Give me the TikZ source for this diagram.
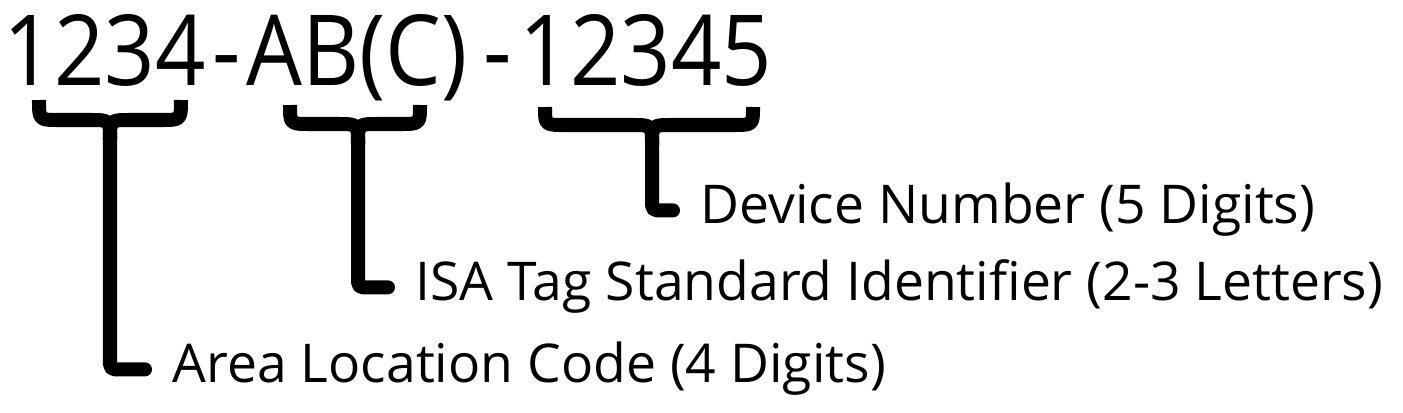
\documentclass[tikz,border=0pt]{standalone}
\usepackage{fontspec}
\setmainfont{Open Sans}
\newfontfamily\codefont[FakeStretch=0.9]{Open Sans}
\usetikzlibrary{positioning}

\begin{document}
\begin{tikzpicture}[
    x=0.01cm, y=-0.01cm,
    code/.style={inner sep=0pt, anchor=base west, font=\codefont\fontsize{27.9}{30}\selectfont},
    tag/.style={inner sep=0pt, anchor=base west, font=\fontsize{15.2}{17}\selectfont, text height=1.34ex, text depth=0pt},
    bracket/.style={line width=0.14cm, line join=round},
    stem/.style={bracket, line cap=round, rounded corners=0.05cm}
]
    \useasboundingbox (0,0) rectangle (1403,412);

    % tag number
    \node[code] (area) at (3,85) {1234};
    \node[code] (dashA) at (212,85) {-};
    \node[code] (isa) at (246,85) {AB(C)};
    \node[code] (dashB) at (483,85) {-};
    \node[code] (device) at (519,85) {12345};

    % descriptions
    \node[tag] (devicetxt) at (700,223) {Device Number (5 Digits)};
    \node[tag] (isatxt) at (415,300) {ISA Tag Standard Identifier (2-3 Letters)};
    \node[tag] (areatxt) at (172,382) {Area Location Code (4 Digits)};

    % brace under 1234
    \draw[bracket] (39,100) .. controls (39,120) .. (59,120) -- (90,120) .. controls (110,120) .. (110,140);
    \draw[bracket] (181,100) .. controls (181,120) .. (161,120) -- (130,120) .. controls (110,120) .. (110,140);
    \draw[stem] (110,132) |- ([xshift=-0.27cm]areatxt.west);

    % brace under AB(C)
    \draw[bracket] (290,105) .. controls (290,124) .. (310,124) -- (338,124) .. controls (358,124) .. (358,144);
    \draw[bracket] (420,105) .. controls (420,124) .. (400,124) -- (378,124) .. controls (358,124) .. (358,144);
    \draw[stem] (358,136) |- ([xshift=-0.27cm]isatxt.west);

    % brace under 12345
    \draw[bracket] (545,107) .. controls (545,125) .. (565,125) -- (632,125) .. controls (652,125) .. (652,145);
    \draw[bracket] (753,107) .. controls (753,125) .. (733,125) -- (672,125) .. controls (652,125) .. (652,145);
    \draw[stem] (652,137) |- ([xshift=-0.27cm]devicetxt.west);
\end{tikzpicture}
\end{document}
